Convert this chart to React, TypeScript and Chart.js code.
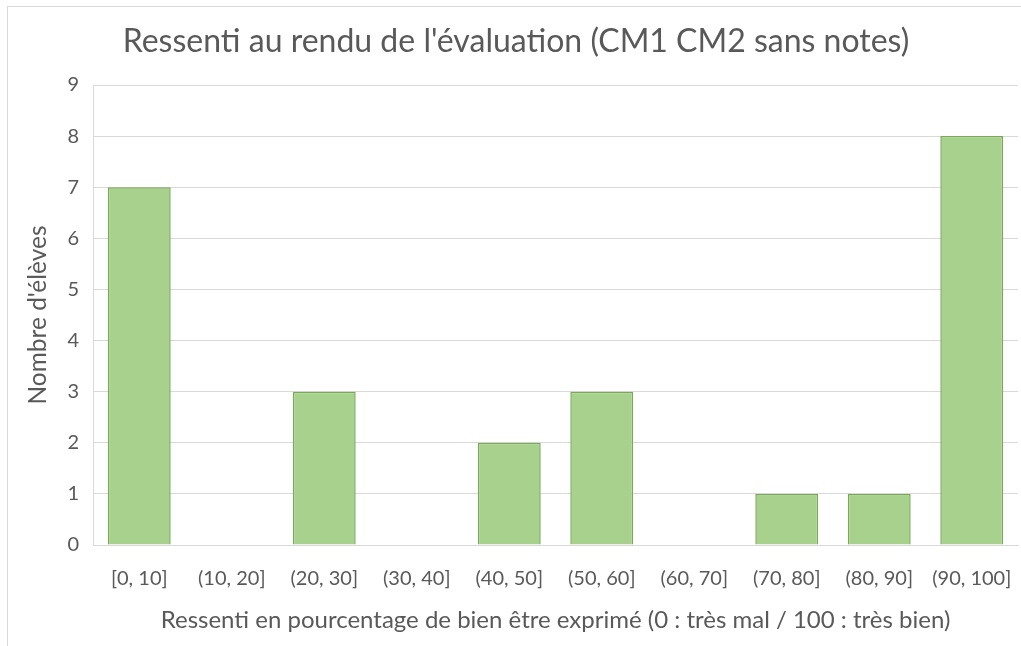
import React, { useEffect, useRef } from "react";
import { Chart, registerables } from "chart.js";

Chart.register(...registerables);

const categories = ["[0, 10]", "(10, 20]", "(20, 30]", "(30, 40]", "(40, 50]", "(50, 60]", "(60, 70]", "(70, 80]", "(80, 90]", "(90, 100]"];
const counts = [7, 0, 3, 0, 2, 3, 0, 1, 1, 8];
const titleText = "Ressenti au rendu de l'évaluation (CM1 CM2 sans notes)";
const xTitle = "Ressenti en pourcentage de bien être exprimé (0 : très mal / 100 : très bien)";
const yTitle = "Nombre d'élèves";

const FONT = "Lato";
const TEXT = "#595959";
const GRID = "#d9d9d9";

export default function App() {
  const ref = useRef<HTMLCanvasElement | null>(null);
  useEffect(() => {
    if (!ref.current) return;
    const chart = new Chart(ref.current, {
      type: "bar",
      data: {
        labels: categories,
        datasets: [
          {
            data: counts,
            backgroundColor: "#a9d18e",
            borderColor: "#78a957",
            borderWidth: 1.5,
            categoryPercentage: 1,
            barPercentage: 0.68,
          },
        ],
      },
      options: {
        responsive: false,
        animation: false,
        devicePixelRatio: 1,
        layout: { padding: { left: 14, right: 3, top: 0, bottom: 0 } },
        plugins: {
          legend: { display: false },
          tooltip: { enabled: false },
          title: {
            display: true,
            text: titleText,
            color: TEXT,
            font: { family: FONT, size: 32, weight: "normal" },
            padding: { top: 22, bottom: 24.6 },
          },
        },
        scales: {
          x: {
            grid: { display: false },
            border: { display: true, color: GRID, width: 1 },
            ticks: { color: TEXT, font: { family: FONT, size: 20 }, padding: 14, maxRotation: 0, autoSkip: false },
            title: {
              display: true,
              text: xTitle,
              color: TEXT,
              font: { family: FONT, size: 24 },
              padding: { top: 0, bottom: 11 },
            },
            afterFit: (s: any) => {
              s.height = 101;
              s.paddingLeft = 0;
              s.paddingRight = 0;
            },
          },
          y: {
            min: 0,
            max: 9,
            ticks: { stepSize: 1, color: TEXT, font: { family: FONT, size: 20 }, padding: 14 },
            grid: { color: GRID, drawTicks: false, lineWidth: 1 },
            border: { display: true, color: GRID, width: 1 },
            title: {
              display: true,
              text: yTitle,
              color: TEXT,
              font: { family: FONT, size: 24.5 },
              padding: { top: 9, bottom: 0 },
            },
            afterFit: (s: any) => {
              s.width = 79;
            },
          },
        },
      },
    });
    return () => chart.destroy();
  }, []);

  return (
    <div style={{ position: "fixed", left: 0, top: 0, width: 1021, height: 646, overflow: "hidden", background: "#fff" }}>
      <div
        style={{
          position: "absolute",
          left: 7,
          top: 6,
          width: 1100,
          height: 800,
          border: `1px solid ${GRID}`,
          boxSizing: "border-box",
        }}
      />
      <canvas ref={ref} width={1021} height={646} style={{ position: "absolute", left: 0, top: 0, display: "block" }} />
    </div>
  );
}
